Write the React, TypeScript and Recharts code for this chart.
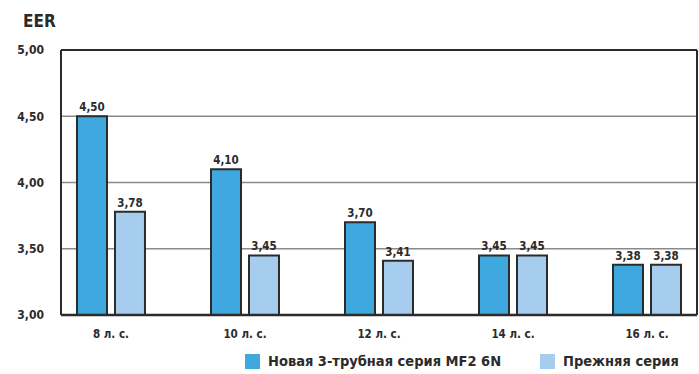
import {
  Bar,
  BarChart,
  CartesianGrid,
  LabelList,
  ReferenceLine,
  XAxis,
  YAxis,
} from "recharts";

const CATEGORIES = ["8 л. с.", "10 л. с.", "12 л. с.", "14 л. с.", "16 л. с."];
const NEW_SERIES = [4.5, 4.1, 3.7, 3.45, 3.38];
const OLD_SERIES = [3.78, 3.45, 3.41, 3.45, 3.38];
const Y_TICKS = [3, 3.5, 4, 4.5, 5];
const NEW_NAME = "Новая 3-трубная серия MF2 6N";
const OLD_NAME = "Прежняя серия";

const NEW_COLOR = "#3ea8df";
const OLD_COLOR = "#a6cdee";
const INK = "#2b2b2b";
const FONT = '"DejaVu Sans Condensed", "Liberation Sans Narrow", sans-serif';

const data = CATEGORIES.map((name, i) => ({
  x: i,
  name,
  fresh: NEW_SERIES[i],
  old: OLD_SERIES[i],
}));

const fmt = (v: number) => v.toFixed(2).replace(".", ",");
const labelStyle = { fontSize: 11.5, fontWeight: 700, fill: INK, fontFamily: FONT };

export default function App() {
  return (
    <div
      style={{
        position: "absolute",
        left: 0,
        top: 0,
        width: 699,
        height: 374,
        background: "#fff",
        fontFamily: FONT,
      }}
    >
      <div
        style={{
          position: "absolute",
          left: 23,
          top: 11,
          fontSize: 17,
          fontWeight: 700,
          color: INK,
        }}
      >
        EER
      </div>
      <BarChart
        width={699}
        height={374}
        data={data}
        margin={{ top: 50, right: 0, bottom: 29, left: 0 }}
        barGap={8}
      >
        <CartesianGrid vertical={false} stroke="#8a8a8a" strokeWidth={1.5} />
        <XAxis
          dataKey="x"
          type="number"
          domain={[-0.373, 4.373]}
          ticks={[0, 1, 2, 3, 4]}
          allowDataOverflow
          tickFormatter={(i: number) => CATEGORIES[i] ?? ""}
          tickLine={false}
          axisLine={{ stroke: INK, strokeWidth: 2.5 }}
          tick={{ fontSize: 11.5, fontWeight: 700, fill: INK, fontFamily: FONT }}
          tickMargin={9}
          height={30}
        />
        <YAxis
          domain={[3, 5]}
          ticks={Y_TICKS}
          allowDataOverflow
          width={61}
          tickLine={false}
          axisLine={{ stroke: INK, strokeWidth: 2 }}
          tickFormatter={fmt}
          tick={{ fontSize: 12, fontWeight: 700, fill: INK, fontFamily: FONT }}
          tickMargin={11}
        />
        <YAxis
          yAxisId="r"
          orientation="right"
          width={2}
          tick={false}
          tickLine={false}
          axisLine={{ stroke: INK, strokeWidth: 2 }}
        />
        <ReferenceLine y={5} stroke={INK} strokeWidth={2} />
        <Bar
          dataKey="fresh"
          name={NEW_NAME}
          fill={NEW_COLOR}
          stroke={INK}
          strokeWidth={2}
          barSize={30}
          isAnimationActive={false}
        >
          <LabelList
            dataKey="fresh"
            position="top"
            offset={5}
            formatter={(v: any) => fmt(Number(v))}
            style={labelStyle}
          />
        </Bar>
        <Bar
          dataKey="old"
          name={OLD_NAME}
          fill={OLD_COLOR}
          stroke={INK}
          strokeWidth={2}
          barSize={30}
          isAnimationActive={false}
        >
          <LabelList
            dataKey="old"
            position="top"
            offset={5}
            formatter={(v: any) => fmt(Number(v))}
            style={labelStyle}
          />
        </Bar>
      </BarChart>
      <div
        style={{
          position: "absolute",
          left: 245,
          top: 353,
          display: "flex",
          alignItems: "center",
          fontSize: 14.5,
          fontWeight: 700,
          color: INK,
          whiteSpace: "nowrap",
        }}
      >
        <span style={{ width: 15, height: 15, background: NEW_COLOR, marginRight: 8 }} />
        <span style={{ width: 272 }}>{NEW_NAME}</span>
        <span style={{ width: 15, height: 15, background: OLD_COLOR, marginRight: 8 }} />
        <span>{OLD_NAME}</span>
      </div>
    </div>
  );
}
